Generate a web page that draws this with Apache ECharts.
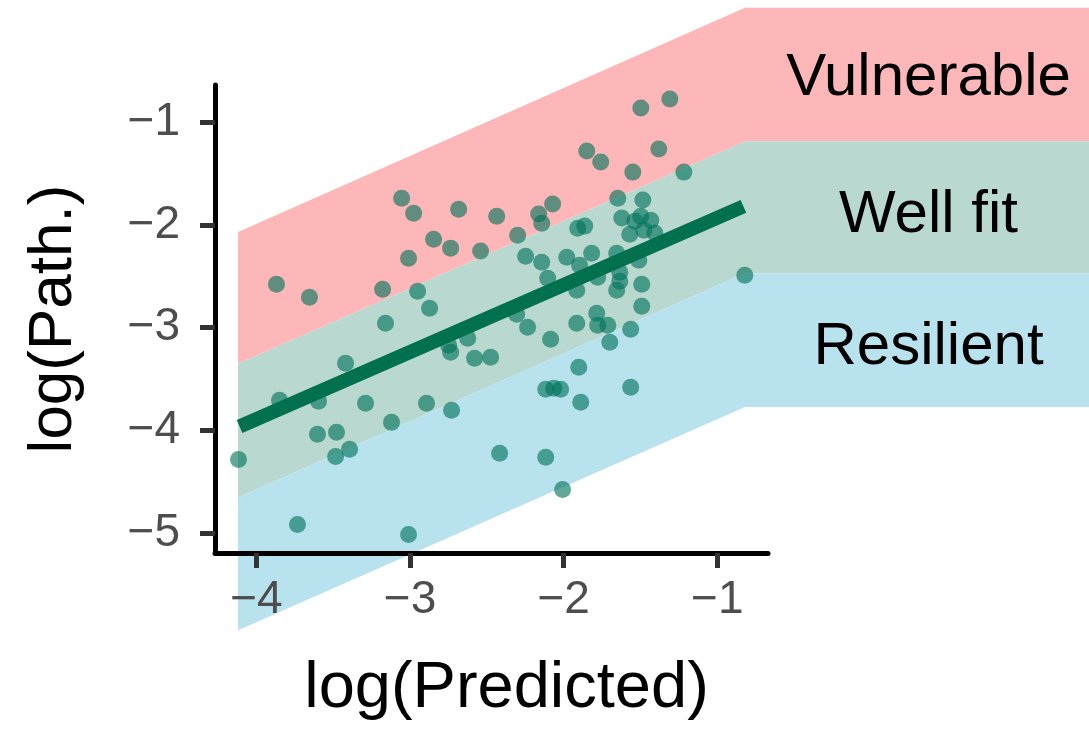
<!DOCTYPE html>
<html><head><meta charset="utf-8">
<script src="https://cdn.jsdelivr.net/npm/echarts@6/dist/echarts.min.js"></script>
<style>html,body{margin:0;padding:0;background:#fff}#c{width:1089px;height:729px}</style>
</head><body><div id="c"></div>
<script>
// ---- data ----
const predicted = [-3.055,-2.977,-2.684,-2.436,-2.847,-2.736,-2.541,-3.010,-3.870,-3.655,
  -3.179,-2.951,-2.873,-1.498,-1.309,-1.850,-1.759,-1.381,-1.550,-1.218,
  -1.648,-1.485,-2.072,-2.163,-2.143,-2.300,-1.909,-1.863,-1.622,-1.537,
  -1.498,-1.433,-1.570,-1.479,-1.407,-2.248,-2.143,-1.980,-1.818,-1.896,
  -1.655,-1.511,-2.104,-1.915,-1.779,-1.635,-1.635,-1.655,-1.492,-1.492,
  -1.785,-0.821,-3.160,-3.420,-3.850,-3.596,-3.290,-2.893,-3.121,-3.603,
  -3.479,-3.485,-3.394,-4.117,-2.730,-2.417,-2.749,-2.736,-2.625,-2.580,
  -2.476,-3.733,-3.010,-2.306,-2.235,-2.085,-1.915,-1.779,-1.713,-1.700,
  -1.564,-1.902,-2.117,-2.065,-2.020,-1.889,-1.564,-2.117,-2.007];
const pathogen = [-1.740,-1.886,-1.847,-1.915,-2.139,-2.226,-2.255,-2.324,-2.577,-2.703,
  -2.625,-2.645,-2.810,-0.864,-0.776,-1.282,-1.389,-1.263,-1.487,-1.487,
  -1.740,-1.759,-1.798,-1.895,-1.983,-2.100,-2.032,-2.012,-1.934,-1.964,
  -1.915,-1.954,-2.090,-2.051,-2.080,-2.304,-2.363,-2.314,-2.275,-2.392,
  -2.275,-2.343,-2.518,-2.635,-2.509,-2.460,-2.547,-2.635,-2.577,-2.791,
  -2.859,-2.489,-2.956,-3.346,-3.706,-3.715,-3.735,-3.735,-3.920,-4.036,
  -4.017,-4.251,-4.182,-4.280,-3.803,-4.221,-3.170,-3.238,-3.102,-3.297,
  -3.287,-4.912,-5.010,-2.869,-2.995,-3.112,-2.956,-2.976,-2.976,-3.141,
  -3.015,-3.384,-3.599,-3.589,-3.599,-3.725,-3.579,-4.260,-4.572];
const fitX = [-4.11, -0.83];
const fitY = [-3.96, -1.82];
const bandX = [-4.12, -0.82];
const bandNames = ['Vulnerable', 'Well fit', 'Resilient'];
const vulnerableTop = [-2.07, 0.11];
const vulnerableBottom = [-3.35, -1.19];
const wellFitBottom = [-4.65, -2.47];
const resilientBottom = [-5.94, -3.77];
const xTicks = [-4, -3, -2, -1];
const yTicks = [-5, -4, -3, -2, -1];

// ---- build ----
const bandUpper = [vulnerableTop, vulnerableBottom, wellFitBottom];
const bandLower = [vulnerableBottom, wellFitBottom, resilientBottom];
const bandColors = ['#FDB7B9', '#B9D8D0', '#B8E2EE'];
const labelDy = [4, 8, 7];
const FONT = "'Liberation Sans', Arial, sans-serif";
const fmt = v => (v < 0 ? '\u2212' : '') + Math.abs(v);

const chart = echarts.init(document.getElementById('c'), null, {renderer: 'canvas'});
chart.setOption({
  backgroundColor: '#fff',
  animation: false,
  grid: {left: 215, top: 85, width: 553, height: 468, outerBoundsMode: 'none'},
  xAxis: {
    type: 'value', min: -4.27, max: -0.67, z: 10,
    name: 'log(Predicted)', nameLocation: 'middle', nameGap: 104,
    nameTextStyle: {fontSize: 65, fontFamily: FONT, color: '#000', padding: [0, 0, 0, 30]},
    axisLine: {show: true, onZero: false, lineStyle: {color: '#000', width: 5}},
    axisTick: {show: true, customValues: xTicks, length: 15, lineStyle: {color: '#333', width: 5}},
    axisLabel: {customValues: xTicks, formatter: fmt, margin: 24, fontSize: 46, fontFamily: FONT, color: '#4D4D4D'},
    splitLine: {show: false}
  },
  yAxis: {
    type: 'value', min: -5.19, max: -0.64, z: 10,
    name: 'log(Path.)', nameLocation: 'middle', nameGap: 130, nameRotate: 90,
    nameTextStyle: {fontSize: 62, fontFamily: FONT, color: '#000'},
    axisLine: {show: true, onZero: false, lineStyle: {color: '#000', width: 5}},
    axisTick: {show: true, customValues: yTicks, length: 15, lineStyle: {color: '#333', width: 5}},
    axisLabel: {customValues: yTicks, formatter: fmt, margin: 35, fontSize: 46, fontFamily: FONT, color: '#4D4D4D'},
    splitLine: {show: false}
  },
  series: [
    {
      type: 'custom', z: 1, clip: false, silent: true,
      data: bandNames.map((n, i) => [bandX[0], bandUpper[i][0]]),
      renderItem: function (params, api) {
        const i = params.dataIndex;
        const W = api.getWidth();
        const a = api.coord([bandX[0], bandUpper[i][0]]);
        const b = api.coord([bandX[1], bandUpper[i][1]]);
        const c = api.coord([bandX[1], bandLower[i][1]]);
        const d = api.coord([bandX[0], bandLower[i][0]]);
        const gridRight = params.coordSys.x + params.coordSys.width;
        return {
          type: 'group',
          children: [
            {type: 'polygon', shape: {points: [a, b, [W, b[1]], [W, c[1]], c, d]}, style: {fill: bandColors[i]}},
            {type: 'text', x: (gridRight + W) / 2, y: (b[1] + c[1]) / 2 + labelDy[i],
             style: {text: bandNames[i], fontSize: 60, fontFamily: FONT, fill: '#000', align: 'center', verticalAlign: 'middle'}}
          ]
        };
      }
    },
    {
      type: 'scatter', z: 3,
      data: predicted.map((x, i) => [x, pathogen[i]]),
      symbolSize: 17,
      itemStyle: {color: '#00735A', opacity: 0.62}
    },
    {
      type: 'line', z: 4, showSymbol: false, symbol: 'none',
      data: fitX.map((x, i) => [x, fitY[i]]),
      lineStyle: {color: '#00704F', width: 14, cap: 'butt'}
    }
  ]
});
</script>
</body></html>
